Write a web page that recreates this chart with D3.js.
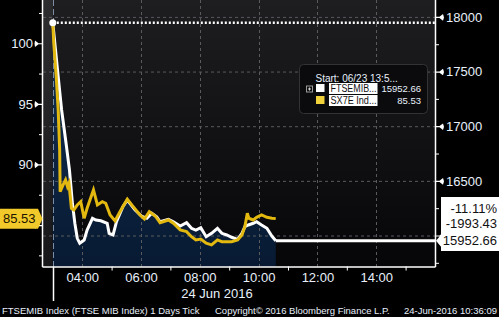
<!DOCTYPE html>
<html>
<head>
<meta charset="utf-8">
<script src="https://cdn.jsdelivr.net/npm/d3@7"></script>
<style>
  html, body { margin: 0; padding: 0; background: #000; }
  svg { display: block; font-family: "Liberation Sans", Arial, sans-serif; }
  .axis text { fill: #e8f0fb; font-size: 13px; }
</style>
</head>
<body>
<svg width="499" height="317"></svg>
<script>
// FTSEMIB (right scale), tick data
const ftseTimes = ["03:00","03:11","03:18","03:27","03:34","03:40","03:45","03:50","03:55","04:04",
  "04:10","04:21","04:28","04:38","04:51","04:55","05:03","05:10","05:23","05:32",
  "05:48","06:01","06:12","06:22","06:32","06:39","06:56","07:06","07:20","07:33",
  "07:43","07:52","08:02","08:13","08:24","08:36","08:45","08:55","09:05","09:17",
  "09:26","09:32","09:39","09:49","09:56","10:06","10:17","10:27","10:35"];
const ftseValues = [17946,17453,17148,16846,16599,16295,16112,15974,15929,15959,
  16050,16157,16142,16135,16112,16020,16005,16126,16263,16325,
  16233,16178,16157,16203,16172,16126,16148,16126,16087,16117,
  16066,16050,16071,15989,16020,16066,16020,16005,15984,15965,
  16020,16081,16096,16112,16126,16096,16066,15995,15952.66];

// SX7E (left scale)
const sx7eTimes = ["03:00","03:02","03:07","03:11","03:14","03:15","03:21","03:26","03:30","03:33",
  "03:38","03:43","03:50","03:57","04:04","04:10","04:23","04:31","04:41","04:48",
  "04:57","05:07","05:17","05:32","05:44","05:58","06:07","06:17","06:29","06:39",
  "06:56","07:06","07:20","07:33","07:43","07:52","08:02","08:13","08:24","08:36",
  "08:45","09:05","09:17","09:26","09:32","09:37","09:40","09:49","09:56","10:06",
  "10:17","10:27","10:35"];
const sx7eValues = [101.73,100.0,97.24,94.5,91.2,87.75,88.31,88.72,88.17,88.45,
  86.38,86.25,86.66,86.93,85.56,86.38,87.9,86.66,86.93,86.8,
  85.83,85.34,86.1,87.13,86.52,85.83,85.5,86.1,85.75,85.2,
  85.42,85.15,84.6,84.46,84.04,83.77,83.85,83.5,83.36,83.77,
  83.63,83.63,83.77,84.18,84.87,85.97,85.56,85.42,85.64,85.83,
  85.64,85.56,85.53];

const prevClose = 17946.09;
const leftTicks = [85, 90, 95, 100];
const leftMinor = [82.5, 87.5, 92.5, 97.5, 102.5];
const rightTicks = [16000, 16500, 17000, 17500, 18000];
const rightMinor = [15750, 16250, 16750, 17250, 17750];
const timeTicks = ["04:00","06:00","08:00","10:00","12:00","14:00"];
const hourTicks = ["05:00","07:00","09:00","11:00","13:00","15:00"];
const lastLabels = ["-11.11%", "-1993.43", "15952.66"];
const legendNames = ["FTSEMIB...", "SX7E Ind..."];
const legendValues = ["15952.66", "85.53"];

const white = "#ffffff", yellow = "#e3b90f";
const textColor = "#e8f0fb";

const parse = d3.timeParse("%H:%M");
const plot = { left: 43, right: 435, top: 0, bottom: 266.5 };

const x = d3.scaleTime().domain([parse("02:40"), parse("16:00")]).range([plot.left, plot.right]);
const yR = d3.scaleLinear().domain([15716.4, 18154.6]).range([plot.bottom, plot.top]);
const yL = d3.scaleLinear().domain([81.58, 103.57]).range([plot.bottom, plot.top]);

const ftse = ftseTimes.map((t, i) => ({ t: parse(t), v: ftseValues[i] }));
const sx7e = sx7eTimes.map((t, i) => ({ t: parse(t), v: sx7eValues[i] }));
const open = parse("03:00");

const svg = d3.select("svg");
const defs = svg.append("defs");

const bg = defs.append("linearGradient").attr("id", "bg").attr("x1", 0).attr("x2", 0).attr("y1", 0).attr("y2", 1);
bg.append("stop").attr("offset", "0%").attr("stop-color", "#1e1e21");
bg.append("stop").attr("offset", "100%").attr("stop-color", "#060609");

const fill = defs.append("linearGradient").attr("id", "fill").attr("x1", 0).attr("x2", 0).attr("y1", 0).attr("y2", 1);
fill.append("stop").attr("offset", "0%").attr("stop-color", "#123052");
fill.append("stop").attr("offset", "100%").attr("stop-color", "#081a33");

// plot background
svg.append("rect")
  .attr("x", plot.left).attr("y", plot.top)
  .attr("width", plot.right - plot.left).attr("height", plot.bottom - plot.top)
  .attr("fill", "url(#bg)");

// pre-open strip
svg.append("rect")
  .attr("x", plot.left).attr("y", plot.top)
  .attr("width", x(open) - plot.left).attr("height", plot.bottom - plot.top)
  .attr("fill", "#ffffff").attr("opacity", 0.07);

// area under FTSEMIB
svg.append("path")
  .datum(ftse)
  .attr("fill", "url(#fill)")
  .attr("d", d3.area().x(d => x(d.t)).y0(plot.bottom).y1(d => yR(d.v)));

// grid
svg.append("g").selectAll("line")
  .data(rightTicks)
  .join("line")
  .attr("x1", plot.left).attr("x2", plot.right)
  .attr("y1", d => yR(d) + 0.5).attr("y2", d => yR(d) + 0.5)
  .attr("stroke", "#5a5a5e").attr("stroke-dasharray", "3,3");

svg.append("g").selectAll("line")
  .data(timeTicks.map(parse))
  .join("line")
  .attr("x1", d => Math.round(x(d)) + 0.5).attr("x2", d => Math.round(x(d)) + 0.5)
  .attr("y1", plot.top).attr("y2", plot.bottom)
  .attr("stroke", "#5a5a5e").attr("stroke-dasharray", "3,3");

// session start marker
svg.append("line")
  .attr("x1", Math.round(x(open)) + 0.5).attr("x2", Math.round(x(open)) + 0.5)
  .attr("y1", plot.top).attr("y2", plot.bottom)
  .attr("stroke", "#7d8ea3").attr("stroke-dasharray", "6,3");
svg.append("line")
  .attr("x1", Math.round(x(open)) + 0.5).attr("x2", Math.round(x(open)) + 0.5)
  .attr("y1", plot.bottom).attr("y2", 301)
  .attr("stroke", white).attr("stroke-width", 1.5);

// previous close dotted line
svg.append("line")
  .attr("x1", x(open)).attr("x2", plot.right)
  .attr("y1", yR(prevClose)).attr("y2", yR(prevClose))
  .attr("stroke", white).attr("stroke-width", 2.5).attr("stroke-dasharray", "2,2");

// last-price line
const last = ftse[ftse.length - 1];
svg.append("line")
  .attr("x1", x(last.t)).attr("x2", plot.right)
  .attr("y1", yR(last.v)).attr("y2", yR(last.v))
  .attr("stroke", white).attr("stroke-width", 3);

// series
svg.append("path")
  .datum(ftse)
  .attr("fill", "none").attr("stroke", white).attr("stroke-width", 3)
  .attr("d", d3.line().x(d => x(d.t)).y(d => yR(d.v)));

svg.append("path")
  .datum(sx7e)
  .attr("fill", "none").attr("stroke", yellow).attr("stroke-width", 3)
  .attr("d", d3.line().x(d => x(d.t)).y(d => yL(d.v)));

svg.append("circle")
  .attr("cx", x(open)).attr("cy", yR(prevClose)).attr("r", 3.5)
  .attr("fill", white);

// axes (labels under the value boxes are hidden, as in the original)
const leftAxis = svg.append("g").attr("class", "axis")
  .attr("transform", `translate(${plot.left},0)`)
  .call(d3.axisLeft(yL).tickValues(leftTicks).tickSize(0).tickPadding(10)
    .tickFormat(d => d === 85 ? "" : d));
leftAxis.select(".domain").remove();
leftAxis.selectAll(".tick").append("path")
  .attr("d", "M-1,-0.6H-4.5L-8,-3.3L-8.5,0L-8,3.3L-4.5,0.6H-1Z").attr("fill", white);

svg.append("g").attr("transform", `translate(${plot.left},0)`)
  .call(d3.axisLeft(yL).tickValues(leftMinor).tickSize(4).tickFormat(""))
  .call(g => g.select(".domain").remove())
  .selectAll("line").attr("stroke", white);

const rightAxis = svg.append("g").attr("class", "axis")
  .attr("transform", `translate(${plot.right},0)`)
  .call(d3.axisRight(yR).tickValues(rightTicks).tickSize(0).tickPadding(11)
    .tickFormat(d => d === 16000 ? "" : d3.format("d")(d)));
rightAxis.select(".domain").remove();
rightAxis.selectAll(".tick").append("path")
  .attr("d", "M1,-0.6H4.5L8,-3.3L9,0L8,3.3L4.5,0.6H1Z").attr("fill", white);

svg.append("g").attr("transform", `translate(${plot.right},0)`)
  .call(d3.axisRight(yR).tickValues(rightMinor).tickSize(4).tickFormat(""))
  .call(g => g.select(".domain").remove())
  .selectAll("line").attr("stroke", white);

const bottomAxis = svg.append("g").attr("class", "axis")
  .attr("transform", `translate(0,${plot.bottom})`)
  .call(d3.axisBottom(x).tickValues(timeTicks.map(parse)).tickSize(0).tickPadding(6.5)
    .tickFormat(d3.timeFormat("%H:%M")));
bottomAxis.select(".domain").remove();

svg.append("g").attr("transform", `translate(0,${plot.bottom})`)
  .call(d3.axisBottom(x).tickValues(hourTicks.map(parse)).tickSize(4).tickFormat(""))
  .call(g => g.select(".domain").remove())
  .selectAll("line").attr("stroke", white);

// axis lines
svg.append("line").attr("x1", plot.left - 0.5).attr("x2", plot.left - 0.5)
  .attr("y1", 0).attr("y2", plot.bottom + 0.5).attr("stroke", white).attr("stroke-width", 1.5);
svg.append("line").attr("x1", plot.right + 0.5).attr("x2", plot.right + 0.5)
  .attr("y1", 0).attr("y2", plot.bottom + 0.5).attr("stroke", white).attr("stroke-width", 1.5);
svg.append("line").attr("x1", plot.left - 0.5).attr("x2", plot.right + 0.5)
  .attr("y1", plot.bottom + 0.5).attr("y2", plot.bottom + 0.5).attr("stroke", white).attr("stroke-width", 1.5);

svg.append("text")
  .attr("x", 217).attr("y", 298)
  .attr("text-anchor", "middle").attr("fill", textColor).attr("font-size", 13)
  .text("24 Jun 2016");

// left last-value label (SX7E)
const ly = yL(sx7eValues[sx7eValues.length - 1]);
svg.append("path")
  .attr("d", `M0,${ly - 10}H38L42.5,${ly}L38,${ly + 10}H0Z`)
  .attr("fill", "#f1c92a");
svg.append("text")
  .attr("x", 3).attr("y", ly + 4.8)
  .attr("fill", "#1a1400").attr("font-size", 13)
  .text(sx7eValues[sx7eValues.length - 1].toFixed(2));

// right last-value box (FTSEMIB)
const ry = yR(last.v);
svg.append("path")
  .attr("d", `M441,197H499V251H441V${ry + 6}L436,${ry}L441,${ry - 6}Z`)
  .attr("fill", white);
svg.append("g").selectAll("text")
  .data(lastLabels)
  .join("text")
  .attr("x", 497).attr("y", (d, i) => [213, 228, ry + 4.6][i])
  .attr("text-anchor", "end").attr("fill", "#111").attr("font-size", 13)
  .text(d => d);

// legend
const lg = svg.append("g").attr("transform", "translate(299.5,64.5)");
lg.append("rect").attr("width", 128).attr("height", 49).attr("rx", 4)
  .attr("fill", "#0b0b0d").attr("stroke", "#333337");
lg.append("text").attr("x", 16).attr("y", 17).attr("fill", textColor).attr("font-size", 10)
  .text("Start: 06/23 13:5...");
lg.append("rect").attr("x", 7).attr("y", 21.5).attr("width", 6).attr("height", 6)
  .attr("fill", "none").attr("stroke", "#9a9a9a");
lg.append("path").attr("d", "M8.5,24.5H11.5M10,23V26").attr("stroke", "#cfcfcf");
const rows = lg.selectAll("g.row")
  .data(legendNames)
  .join("g").attr("class", "row")
  .attr("transform", (d, i) => `translate(0,${19.5 + i * 12})`);
rows.append("rect").attr("x", 16.5).attr("y", 0).attr("width", 8.5).attr("height", 8)
  .attr("fill", (d, i) => i === 0 ? white : "#f2d23a");
rows.append("rect").attr("x", 29.5).attr("y", -1).attr("width", 48.5).attr("height", 11)
  .attr("fill", white);
rows.append("text").attr("x", 31).attr("y", 8).attr("fill", "#111").attr("font-size", 10)
  .attr("textLength", 46).attr("lengthAdjust", "spacingAndGlyphs")
  .text(d => d);
rows.append("text").attr("x", 121.5).attr("y", 8).attr("text-anchor", "end")
  .attr("fill", textColor).attr("font-size", 9.5)
  .text((d, i) => legendValues[i]);

// footer
const footer = svg.append("g").attr("fill", textColor).attr("font-size", 9.5)
  .style("white-space", "pre");
footer.append("text").attr("x", 2).attr("y", 313.5)
  .text("FTSEMIB Index (FTSE MIB Index) 1 Days  Tick");
footer.append("text").attr("x", 215).attr("y", 313.5)
  .text("Copyright\u00A9 2016 Bloomberg Finance L.P.");
footer.append("text").attr("x", 497).attr("y", 313.5).attr("text-anchor", "end")
  .text("24-Jun-2016 10:36:09");
</script>
</body>
</html>
